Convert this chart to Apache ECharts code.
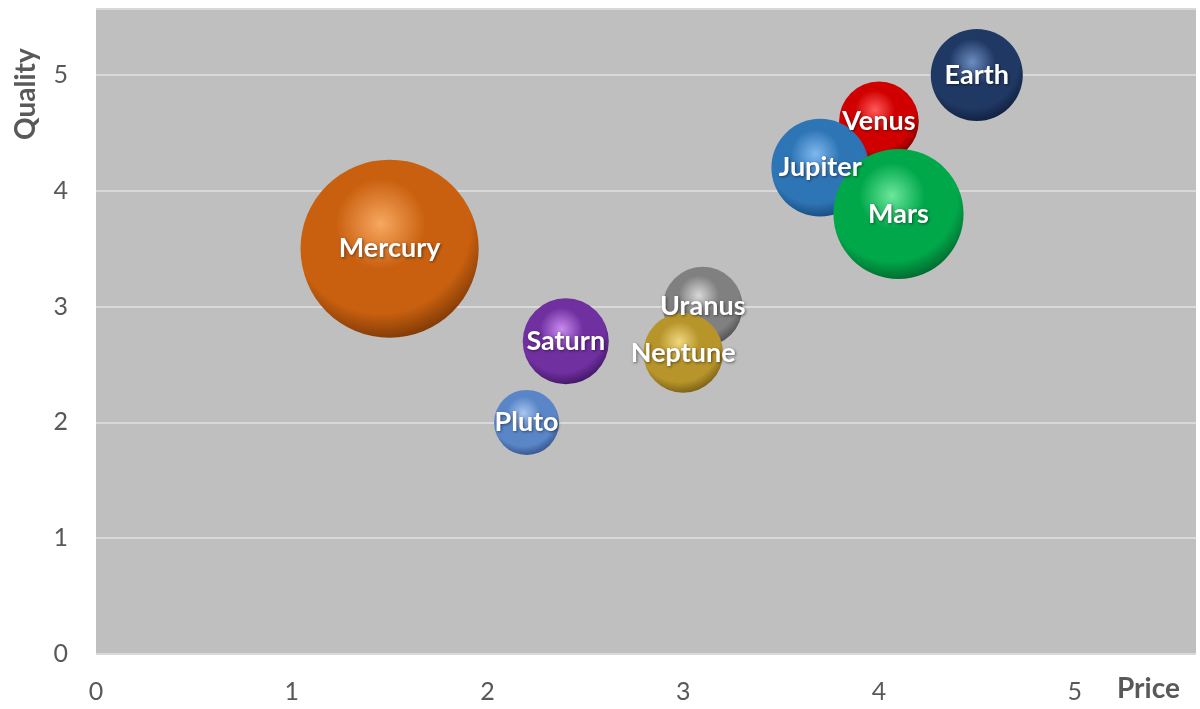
<!DOCTYPE html>
<html>
<head>
<meta charset="utf-8">
<script src="https://cdn.jsdelivr.net/npm/echarts@6/dist/echarts.min.js"></script>
<style>
html,body{margin:0;padding:0;background:#fff;}
#chart{width:1200px;height:709px;}
</style>
</head>
<body>
<div id="chart"></div>
<script>
// Data (drawing order: later items on top)
const planets = ['Mercury','Saturn','Pluto','Venus','Earth','Jupiter','Mars','Uranus','Neptune'];
const price   = [1.5, 2.4, 2.2, 4.0, 4.5, 3.7, 4.1, 3.1, 3.0];
const quality = [3.5, 2.7, 2.0, 4.6, 5.0, 4.2, 3.8, 3.0, 2.6];
const bubbleSize = [15, 3.5, 2, 3, 4, 4.5, 8, 3, 3];
const xTicks = [0,1,2,3,4,5];
const yTicks = [0,1,2,3,4,5];

// sphere colours: [highlight, base, shadow]
const palette = {
  Mercury: ['#F7A860','#C9600F','#5E2803'],
  Saturn:  ['#C98BF0','#7030A0','#2E0A4A'],
  Pluto:   ['#A9C6F0','#5A86C8','#253F70'],
  Venus:   ['#FF5A5A','#D00000','#5A0000'],
  Earth:   ['#6D8CC0','#203864','#0A152E'],
  Jupiter: ['#7FB8EE','#2E75B6','#0F3A66'],
  Mars:    ['#6CE79C','#00A84A','#024D22'],
  Uranus:  ['#D8D8D8','#808080','#3A3A3A'],
  Neptune: ['#F0D77E','#B8952B','#5E480C']
};

function sphere(name){
  const c = palette[name];
  return {
    type:'radial', x:0.45, y:0.36, r:0.72,
    colorStops:[
      {offset:0, color:c[0]},
      {offset:0.35, color:c[1]},
      {offset:0.7, color:c[1]},
      {offset:1, color:c[2]}
    ]
  };
}

const data = planets.map((p,i)=>({
  name:p,
  value:[price[i], quality[i], bubbleSize[i]],
  itemStyle:{color:sphere(p), opacity:1}
}));

const chart = echarts.init(document.getElementById('chart'));
const labelFont = 'Lato, "Open Sans", sans-serif';
chart.setOption({
  animation:false,
  grid:{left:96,right:4,top:9,bottom:55,show:true,backgroundColor:'#BFBFBF',borderWidth:0},
  xAxis:{
    type:'value', min:0, max:5.62, interval:1,
    axisLine:{show:false}, axisTick:{show:false}, splitLine:{show:false},
    axisLabel:{color:'#595959',fontSize:25,fontFamily:labelFont,margin:25,showMaxLabel:false,
      formatter:v=> xTicks.includes(v)? String(v):''}
  },
  yAxis:{
    type:'value', min:0, max:5.57, interval:1,
    axisLine:{show:false}, axisTick:{show:false},
    splitLine:{show:true,lineStyle:{color:'#D9D9D9',width:2}},
    axisLabel:{color:'#595959',fontSize:25,fontFamily:labelFont,margin:28,showMaxLabel:false,
      formatter:v=> yTicks.includes(v)? String(v):''}
  },
  series:[{
    type:'scatter',
    data:data,
    symbolSize:v=>46*Math.sqrt(v[2]),
    itemStyle:{opacity:1},
    label:{show:true,position:'inside',formatter:'{b}',color:'#FFFFFF',fontWeight:'bold',
      fontSize:27,fontFamily:labelFont,textShadowColor:'rgba(0,0,0,0.5)',textShadowBlur:3,
      textShadowOffsetX:1,textShadowOffsetY:1},
    labelLayout:{hideOverlap:false},
    emphasis:{disabled:true}
  }],
  graphic:[
    {type:'text',left:1117,top:675,style:{text:'Price',fill:'#595959',font:'bold 28px '+labelFont}},
    {type:'text',x:12,y:140,rotation:Math.PI/2,style:{text:'Quality',fill:'#595959',font:'bold 28px '+labelFont}}
  ]
});
</script>
</body>
</html>
